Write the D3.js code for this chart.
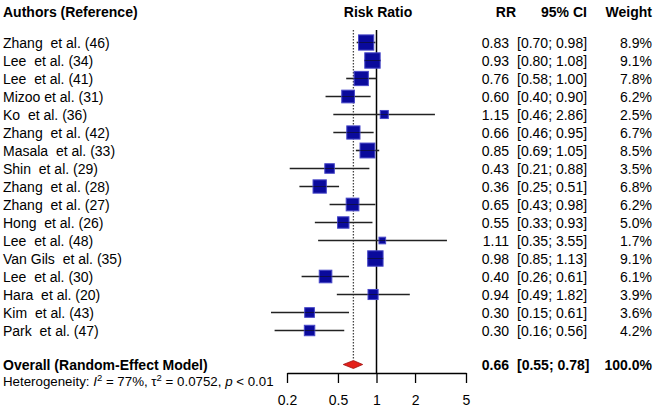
<!DOCTYPE html>
<html><head><meta charset="utf-8">
<script src="https://cdnjs.cloudflare.com/ajax/libs/d3/7.8.5/d3.min.js"></script>
<style>
html,body{margin:0;padding:0;background:#fff;}
svg{display:block;font-family:"Liberation Sans",Arial,sans-serif;}
text{white-space:pre;}
</style></head>
<body><svg id="c" width="663" height="407"></svg>
<script>
const authors = ["Zhang  et al. (46)","Lee  et al. (34)","Lee  et al. (41)","Mizoo et al. (31)","Ko  et al. (36)","Zhang  et al. (42)","Masala  et al. (33)","Shin  et al. (29)","Zhang  et al. (28)","Zhang  et al. (27)","Hong  et al. (26)","Lee  et al. (48)","Van Gils  et al. (35)","Lee  et al. (30)","Hara  et al. (20)","Kim  et al. (43)","Park  et al. (47)"];
const rr     = [0.83,0.93,0.76,0.60,1.15,0.66,0.85,0.43,0.36,0.65,0.55,1.11,0.98,0.40,0.94,0.30,0.30];
const lower  = [0.70,0.80,0.58,0.40,0.46,0.46,0.69,0.21,0.25,0.43,0.33,0.35,0.85,0.26,0.49,0.15,0.16];
const upper  = [0.98,1.08,1.00,0.90,2.86,0.95,1.05,0.88,0.51,0.98,0.93,3.55,1.13,0.61,1.82,0.61,0.56];
const weight = [8.9,9.1,7.8,6.2,2.5,6.7,8.5,3.5,6.8,6.2,5.0,1.7,9.1,6.1,3.9,3.6,4.2];
const overall = {rr:0.66, lower:0.55, upper:0.78, weight:100.0};
const tickValues = [0.2,0.5,1,2,5];
const headers = {author:"Authors (Reference)", plot:"Risk Ratio", rr:"RR", ci:"95% CI", w:"Weight"};

const svg = d3.select("#c");
const x = d3.scaleLog().domain([0.2,5]).range([287,466]);
const y = d3.scaleLinear().domain([0,16]).range([42.5,330.5]);
const f2 = d3.format(".2f");
const FS = 14;

// headers
const hdr = svg.append("g").attr("font-weight","bold").attr("font-size",FS).attr("fill","#000");
hdr.append("text").attr("x",3).attr("y",17).text(headers.author);
hdr.append("text").attr("x",378).attr("y",17).attr("text-anchor","middle").text(headers.plot);
hdr.append("text").attr("x",516).attr("y",17).attr("text-anchor","end").text(headers.rr);
hdr.append("text").attr("x",564).attr("y",17).attr("text-anchor","middle").text(headers.ci);
hdr.append("text").attr("x",652).attr("y",17).attr("text-anchor","end").text(headers.w);

// reference lines
svg.append("line").attr("x1",x(1)).attr("x2",x(1)).attr("y1",30).attr("y2",373)
  .attr("stroke","#000").attr("stroke-width",1.5);
svg.append("line").attr("x1",x(overall.rr)).attr("x2",x(overall.rr)).attr("y1",30).attr("y2",360)
  .attr("stroke","#444").attr("stroke-width",1.3).attr("stroke-dasharray","1.5,1.5");

// study rows
const idx = d3.range(authors.length);
const rows = svg.append("g").selectAll("g").data(idx).join("g");
rows.append("line").attr("x1",i=>x(lower[i])).attr("x2",i=>x(upper[i]))
  .attr("y1",i=>y(i)).attr("y2",i=>y(i)).attr("stroke","#222").attr("stroke-width",1.6);
rows.append("rect")
  .attr("x",i=>x(rr[i])-2.55*Math.sqrt(weight[i])).attr("y",i=>y(i)-2.55*Math.sqrt(weight[i]))
  .attr("width",i=>5.1*Math.sqrt(weight[i])).attr("height",i=>5.1*Math.sqrt(weight[i]))
  .attr("fill","#0a0a9c").attr("stroke","#4848c8").attr("stroke-width",1);
rows.append("line").attr("x1",i=>x(rr[i])-2.5*Math.sqrt(weight[i])).attr("x2",i=>x(rr[i])+2.5*Math.sqrt(weight[i]))
  .attr("y1",i=>y(i)).attr("y2",i=>y(i)).attr("stroke","#111").attr("stroke-width",0.8).attr("opacity",0.7);

const txt = svg.append("g").attr("font-size",FS).attr("fill","#000");
txt.selectAll(".a").data(idx).join("text").attr("x",3).attr("y",i=>y(i)+5).text(i=>authors[i]);
txt.selectAll(".r").data(idx).join("text").attr("x",509).attr("y",i=>y(i)+5).attr("text-anchor","end").text(i=>f2(rr[i]));
txt.selectAll(".c").data(idx).join("text").attr("x",517).attr("y",i=>y(i)+5).text(i=>"["+f2(lower[i])+"; "+f2(upper[i])+"]");
txt.selectAll(".w").data(idx).join("text").attr("x",652).attr("y",i=>y(i)+5).attr("text-anchor","end").text(i=>weight[i].toFixed(1)+"%");

// overall
const oy = 364.5;
svg.append("path")
  .attr("d",`M${x(overall.lower)},${oy} L${x(overall.rr)},${oy-4} L${x(overall.upper)},${oy} L${x(overall.rr)},${oy+4} Z`)
  .attr("fill","#e4201a").attr("stroke","#a01010").attr("stroke-width",0.8);
const ot = svg.append("g").attr("font-size",FS).attr("font-weight","bold").attr("fill","#000");
ot.append("text").attr("x",3).attr("y",369.5).text("Overall (Random-Effect Model)");
ot.append("text").attr("x",509).attr("y",369.5).attr("text-anchor","end").text(f2(overall.rr));
ot.append("text").attr("x",517).attr("y",369.5).text("["+f2(overall.lower)+"; "+f2(overall.upper)+"]");
ot.append("text").attr("x",652).attr("y",369.5).attr("text-anchor","end").text(overall.weight.toFixed(1)+"%");

// heterogeneity
const het = svg.append("text").attr("x",3).attr("y",386).attr("font-size",13.3).attr("fill","#000");
het.append("tspan").text("Heterogeneity: ");
het.append("tspan").attr("font-style","italic").text("I");
het.append("tspan").attr("dy",-5).attr("font-size",9.5).text("2");
het.append("tspan").attr("dy",5).text(" = 77%, τ");
het.append("tspan").attr("dy",-5).attr("font-size",9.5).text("2");
het.append("tspan").attr("dy",5).text(" = 0.0752, ");
het.append("tspan").attr("font-style","italic").text("p");
het.append("tspan").text(" < 0.01");

// axis
const ax = svg.append("g").attr("transform","translate(0,373)")
  .call(d3.axisBottom(x).tickValues(tickValues).tickFormat(d=>String(d)).tickSize(10).tickPadding(12).tickSizeOuter(0));
ax.select(".domain").attr("stroke","#000").attr("stroke-width",1.3);
ax.selectAll(".tick line").attr("stroke","#000").attr("stroke-width",1.3);
ax.selectAll(".tick text").attr("font-size",FS).attr("font-family","Liberation Sans, Arial, sans-serif").attr("fill","#000");
</script></body></html>
